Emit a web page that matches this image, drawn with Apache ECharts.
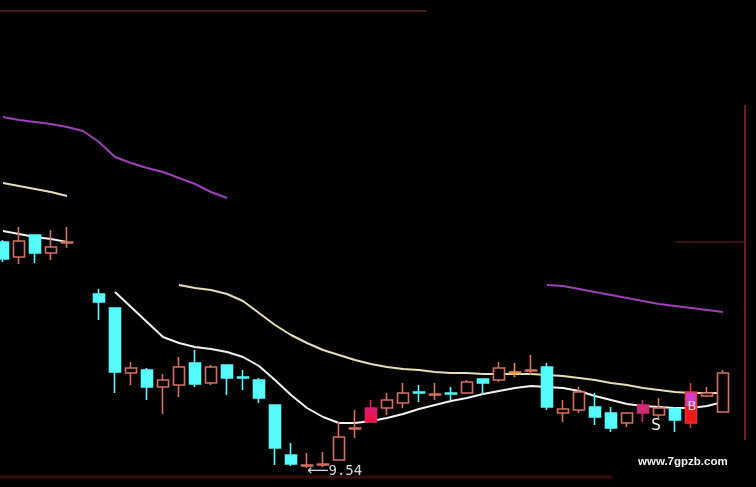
<!DOCTYPE html>
<html>
<head>
<meta charset="utf-8">
<script src="https://cdn.jsdelivr.net/npm/echarts/dist/echarts.min.js"></script>
<style>
html,body{margin:0;padding:0;background:#000;}
#c{width:756px;height:487px;}
</style>
</head>
<body>
<div id="c"></div>
<script>
// ---- data ----
var categories = ['1','2','3','4','5','6','7','8','9','10','11','12','13','14','15','16','17','18','19','20','21','22','23','24','25','26','27','28','29','30','31','32','33','34','35','36','37','38','39','40','41','42','43','44','45','46'];

var opens  = [11.80,11.65,11.87,11.69,11.79,'-',11.28,11.14,10.49,10.52,10.35,10.37,10.59,10.39,10.57,10.45,10.42,10.17,9.67,9.56,9.57,9.62,9.93,10.00,10.14,10.19,10.30,10.27,10.29,10.29,10.43,10.42,10.49,10.51,10.55,10.09,10.12,10.15,10.09,9.99,10.09,10.07,10.13,9.99,10.26,10.10];
var closes = [11.63,11.81,11.69,11.75,11.80,'-',11.20,10.50,10.54,10.35,10.42,10.55,10.38,10.55,10.44,10.44,10.24,9.74,9.58,9.57,9.58,9.85,9.94,10.14,10.22,10.29,10.29,10.28,10.28,10.40,10.39,10.54,10.50,10.52,10.15,10.13,10.30,10.05,9.94,10.09,10.17,10.14,10.02,10.30,10.29,10.49];
var lows   = [11.60,11.58,11.59,11.62,11.74,'-',11.02,10.29,10.37,10.22,10.08,10.25,10.35,10.37,10.27,10.32,10.19,9.57,9.56,9.54,9.55,9.62,9.84,10.00,10.07,10.14,10.20,10.22,10.22,10.29,10.27,10.40,10.45,10.47,10.12,10.00,10.09,9.97,9.90,9.95,10.00,10.04,9.90,9.94,10.25,10.10];
var highs  = [11.82,11.95,11.87,11.92,11.95,'-',11.33,11.14,10.60,10.54,10.48,10.65,10.72,10.57,10.57,10.52,10.44,10.17,9.79,9.69,9.70,10.00,10.12,10.22,10.29,10.39,10.37,10.39,10.35,10.42,10.43,10.60,10.59,10.67,10.59,10.22,10.35,10.29,10.15,10.10,10.22,10.24,10.15,10.39,10.35,10.52];

var purpleLine = [13.05,13.02,13.00,12.98,12.95,12.91,12.80,12.65,12.59,12.54,12.50,12.44,12.38,12.30,12.24,'-','-','-','-','-','-','-','-','-','-','-','-','-','-','-','-','-','-','-',11.37,11.36,11.33,11.30,11.27,11.24,11.21,11.18,11.16,11.14,11.12,11.10];
var creamLine  = [12.39,12.36,12.33,12.30,12.26,'-','-','-','-','-','-',11.37,11.34,11.32,11.28,11.21,11.09,10.97,10.87,10.79,10.72,10.67,10.62,10.58,10.55,10.53,10.52,10.50,10.49,10.49,10.48,10.48,10.48,10.48,10.47,10.46,10.44,10.42,10.39,10.37,10.34,10.32,10.30,10.29,10.29,10.29];
var whiteLine  = [11.91,11.88,11.85,11.83,11.80,'-','-',11.30,11.15,11.00,10.85,10.79,10.75,10.73,10.70,10.65,10.56,10.42,10.27,10.14,10.05,9.99,9.99,10.01,10.04,10.08,10.13,10.17,10.21,10.24,10.28,10.31,10.34,10.36,10.35,10.34,10.31,10.26,10.22,10.18,10.16,10.15,10.14,10.14,10.16,10.20];

var lowLabel = {index: 19, value: 9.54, text: '9.54'};
var sLabel = {index: 41, value: 9.97, text: 'S'};
var bLabel = {index: 43, value: 10.15, text: 'B'};
var watermark = 'www.7gpzb.com';

// ---- styles (kept separate from data) ----
var UP = '#d8705f', DOWN = '#54fcfc';
var specialStyles = {
  23: {color: {type:'linear',x:0,y:0,x2:0,y2:1,colorStops:[{offset:0,color:'#d0209a'},{offset:1,color:'#f01030'}]}, borderColor:'#e0206a'},
  32: {color:'#000', borderColor:'#f0903a'},
  40: {color:'#d02a72', borderColor:'#d02a72'},
  43: {color: {type:'linear',x:0,y:0,x2:0,y2:1,colorStops:[{offset:0,color:'#d040c8'},{offset:0.5,color:'#d040c8'},{offset:0.51,color:'#f01818'},{offset:1,color:'#f01818'}]}, borderColor:'#e83040'}
};

var kData = categories.map(function(c, i){
  if (opens[i] === '-') return '-';
  var v = [opens[i], closes[i], lows[i], highs[i]];
  if (specialStyles[i]) return {value: v, itemStyle: specialStyles[i]};
  return v;
});

var chart = echarts.init(document.getElementById('c'), null, {renderer:'canvas'});
chart.setOption({
  backgroundColor: '#000',
  animation: false,
  grid: {left: 3, top: 0, width: 720, height: 487},
  xAxis: {type:'category', data: categories, boundaryGap: false, show: false},
  yAxis: {type:'value', min: 9.35, max: 14.22, show: false, scale: true},
  graphic: [
    {type:'line', shape:{x1:0,y1:11,x2:426,y2:11}, style:{stroke:'#4a1818', lineWidth:2}, silent:true},
    {type:'line', shape:{x1:745,y1:105,x2:745,y2:440}, style:{stroke:'#6a2020', lineWidth:2}, silent:true},
    {type:'line', shape:{x1:676,y1:242,x2:745,y2:242}, style:{stroke:'#4a1818', lineWidth:1.5}, silent:true},
    {type:'line', shape:{x1:0,y1:477,x2:612,y2:477}, style:{stroke:'#3a0c0c', lineWidth:3}, silent:true},
    {type:'text', left: 638, top: 456, style:{text: watermark, fill:'#f2f2f2', font:'bold 11.5px "Liberation Sans", Arial, sans-serif'}, silent:true}
  ],
  series: [
    {type:'line', data: purpleLine, symbol:'none', connectNulls:false, z:1, clip:false,
     lineStyle:{color:'#a040b8', width:2}},
    {type:'line', data: creamLine, symbol:'none', connectNulls:false, z:1, clip:false,
     lineStyle:{color:'#e6dfb8', width:2}},
    {type:'line', data: whiteLine, symbol:'none', connectNulls:false, z:1, clip:false,
     lineStyle:{color:'#f2f2f2', width:2}},
    {type:'candlestick', data: kData, barWidth: 12, z:3, clip:false,
     itemStyle:{color:'#000', color0: DOWN, borderColor: UP, borderColor0: DOWN, borderWidth: 1.6},
     markPoint: {
       symbol: 'circle', symbolSize: 0, silent: true,
       data: [
         {coord:[lowLabel.index, lowLabel.value], label:{show:true, position:'right', offset:[-5,3],
           formatter:'{a|⟵}{b|' + lowLabel.text + '}',
           rich:{a:{color:'#d8d8d8', fontSize:15, fontFamily:'DejaVu Sans'}, b:{color:'#d8d8d8', fontSize:14, fontFamily:'DejaVu Sans Mono'}}}},
         {coord:[sLabel.index, sLabel.value], label:{show:true, position:'inside', offset:[-3,1], formatter:sLabel.text, color:'#f2f2f2', fontSize:15, fontFamily:'DejaVu Sans'}},
         {coord:[bLabel.index, bLabel.value], label:{show:true, position:'inside', offset:[1,0], formatter:bLabel.text, color:'#f4d8e8', fontSize:13, fontFamily:'DejaVu Sans'}}
       ]
     }}
  ]
});
</script>
</body>
</html>
